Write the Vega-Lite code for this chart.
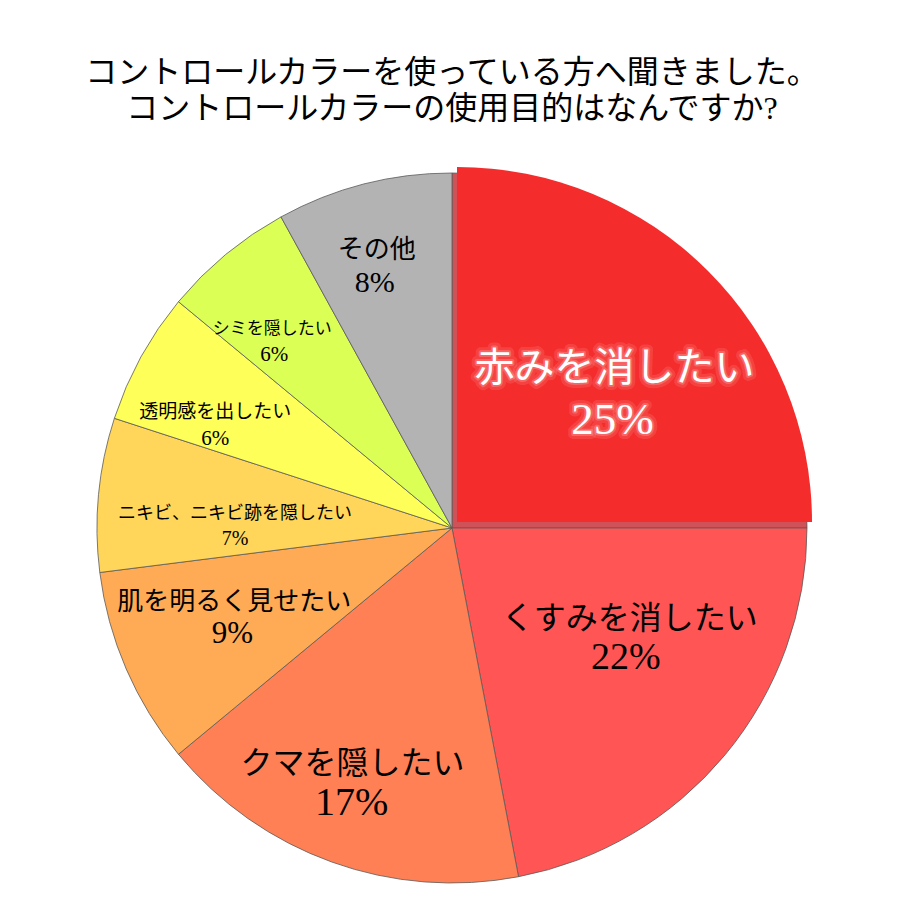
{
  "$schema": "https://vega.github.io/schema/vega-lite/v6.json",
  "width": 896,
  "height": 744,
  "autosize": "none",
  "padding": {"left": 4, "top": 156, "right": 0, "bottom": 0},
  "background": "white",
  "config": {"view": {"stroke": null}},
  "title": {
    "text": ["コントロールカラーを使っている方へ聞きました。", "コントロールカラーの使用目的はなんですか?"],
    "font": "Liberation Serif, Noto Sans CJK JP",
    "fontSize": 32,
    "fontWeight": "normal",
    "lineHeight": 36,
    "color": "black",
    "anchor": "middle",
    "offset": 30
  },
  "data": {
    "values": [
      {"name": "赤みを消したい", "pct": 25},
      {"name": "くすみを消したい", "pct": 22},
      {"name": "クマを隠したい", "pct": 17},
      {"name": "肌を明るく見せたい", "pct": 9},
      {"name": "ニキビ、ニキビ跡を隠したい", "pct": 7},
      {"name": "透明感を出したい", "pct": 6},
      {"name": "シミを隠したい", "pct": 6},
      {"name": "その他", "pct": 8}
    ]
  },
  "transform": [
    {"window": [{"op": "row_number", "as": "i"}]},
    {"calculate": "datum.pct + '%'", "as": "pl"}
  ],
  "encoding": {
    "theta": {"field": "pct", "type": "quantitative", "stack": true},
    "order": {"field": "i", "type": "quantitative"}
  },
  "layer": [
    {
      "mark": {"type": "arc", "outerRadius": 355, "stroke": "#5a5a5a", "strokeWidth": 0.8},
      "encoding": {
        "color": {
          "condition": {"test": "datum.name === '赤みを消したい'", "value": "#CF5258"},
          "field": "name", "type": "nominal", "legend": null,
          "scale": {
            "domain": ["赤みを消したい", "くすみを消したい", "クマを隠したい", "肌を明るく見せたい", "ニキビ、ニキビ跡を隠したい", "透明感を出したい", "シミを隠したい", "その他"],
            "range": ["#F42C2C", "#FF5555", "#FF8055", "#FFAA55", "#FFD55A", "#FFFF5A", "#DBFF55", "#B3B3B3"]
          }
        }
      }
    },
    {
      "mark": {"type": "arc", "outerRadius": 355, "xOffset": 5, "yOffset": -6, "strokeWidth": 0},
      "encoding": {
        "color": {"field": "name", "type": "nominal", "legend": null},
        "opacity": {"condition": {"test": "datum.name === '赤みを消したい'", "value": 1}, "value": 0}
      }
    },
    {
      "mark": {"type": "text", "radius": 200, "dx": 21, "dy": -18, "fontSize": 40, "font": "Noto Sans CJK JP", "fillOpacity": 0, "stroke": "#ffd8d0", "strokeWidth": 10, "strokeOpacity": 0.14, "strokeJoin": "round"},
      "encoding": {"text": {"condition": {"test": "datum.name === '赤みを消したい'", "field": "name"}, "value": ""}}
    },
    {
      "mark": {"type": "text", "radius": 200, "dx": 21, "dy": -18, "fontSize": 40, "font": "Noto Sans CJK JP", "fillOpacity": 0, "stroke": "#ffeeea", "strokeWidth": 4, "strokeOpacity": 0.22, "strokeJoin": "round"},
      "encoding": {"text": {"condition": {"test": "datum.name === '赤みを消したい'", "field": "name"}, "value": ""}}
    },
    {
      "mark": {"type": "text", "radius": 200, "dx": 21, "dy": -18, "fontSize": 40, "font": "Noto Sans CJK JP", "fill": "white"},
      "encoding": {"text": {"condition": {"test": "datum.name === '赤みを消したい'", "field": "name"}, "value": ""}}
    },
    {
      "mark": {"type": "text", "radius": 200, "dx": 19, "dy": 33, "fontSize": 45, "font": "Liberation Serif", "fillOpacity": 0, "stroke": "#ffd8d0", "strokeWidth": 10, "strokeOpacity": 0.14, "strokeJoin": "round"},
      "encoding": {"text": {"condition": {"test": "datum.name === '赤みを消したい'", "field": "pl"}, "value": ""}}
    },
    {
      "mark": {"type": "text", "radius": 200, "dx": 19, "dy": 33, "fontSize": 45, "font": "Liberation Serif", "fillOpacity": 0, "stroke": "#ffeeea", "strokeWidth": 4, "strokeOpacity": 0.22, "strokeJoin": "round"},
      "encoding": {"text": {"condition": {"test": "datum.name === '赤みを消したい'", "field": "pl"}, "value": ""}}
    },
    {
      "mark": {"type": "text", "radius": 200, "dx": 19, "dy": 33, "fontSize": 45, "font": "Liberation Serif", "fill": "white"},
      "encoding": {"text": {"condition": {"test": "datum.name === '赤みを消したい'", "field": "pl"}, "value": ""}}
    },
    {
      "mark": {"type": "text", "radius": 210, "dx": 16, "dy": -43, "fontSize": 32, "font": "Noto Sans CJK JP", "color": "black"},
      "encoding": {"text": {"condition": {"test": "datum.name === 'くすみを消したい'", "field": "name"}, "value": ""}}
    },
    {
      "mark": {"type": "text", "radius": 210, "dx": 12, "dy": -4, "fontSize": 38, "font": "Liberation Serif", "color": "black"},
      "encoding": {"text": {"condition": {"test": "datum.name === 'くすみを消したい'", "field": "pl"}, "value": ""}}
    },
    {
      "mark": {"type": "text", "radius": 270, "dx": -8, "dy": -18, "fontSize": 32, "font": "Noto Sans CJK JP", "color": "black"},
      "encoding": {"text": {"condition": {"test": "datum.name === 'クマを隠したい'", "field": "name"}, "value": ""}}
    },
    {
      "mark": {"type": "text", "radius": 270, "dx": -9, "dy": 21, "fontSize": 40, "font": "Liberation Serif", "color": "black"},
      "encoding": {"text": {"condition": {"test": "datum.name === 'クマを隠したい'", "field": "pl"}, "value": ""}}
    },
    {
      "mark": {"type": "text", "radius": 235, "dx": -2, "dy": -19, "fontSize": 26, "font": "Noto Sans CJK JP", "color": "black"},
      "encoding": {"text": {"condition": {"test": "datum.name === '肌を明るく見せたい'", "field": "name"}, "value": ""}}
    },
    {
      "mark": {"type": "text", "radius": 235, "dx": -4, "dy": 13, "fontSize": 31, "font": "Liberation Serif", "color": "black"},
      "encoding": {"text": {"condition": {"test": "datum.name === '肌を明るく見せたい'", "field": "pl"}, "value": ""}}
    },
    {
      "mark": {"type": "text", "radius": 215, "dx": -3, "dy": 6, "fontSize": 18, "font": "Noto Sans CJK JP", "color": "black"},
      "encoding": {"text": {"condition": {"test": "datum.name === 'ニキビ、ニキビ跡を隠したい'", "field": "name"}, "value": ""}}
    },
    {
      "mark": {"type": "text", "radius": 215, "dx": -3, "dy": 31, "fontSize": 20, "font": "Liberation Serif", "color": "black"},
      "encoding": {"text": {"condition": {"test": "datum.name === 'ニキビ、ニキビ跡を隠したい'", "field": "pl"}, "value": ""}}
    },
    {
      "mark": {"type": "text", "radius": 260, "dx": -9, "dy": 9, "fontSize": 19, "font": "Noto Sans CJK JP", "color": "black"},
      "encoding": {"text": {"condition": {"test": "datum.name === '透明感を出したい'", "field": "name"}, "value": ""}}
    },
    {
      "mark": {"type": "text", "radius": 260, "dx": -9, "dy": 36, "fontSize": 21, "font": "Liberation Serif", "color": "black"},
      "encoding": {"text": {"condition": {"test": "datum.name === '透明感を出したい'", "field": "pl"}, "value": ""}}
    },
    {
      "mark": {"type": "text", "radius": 260, "dx": -14, "dy": 1, "fontSize": 17, "font": "Noto Sans CJK JP", "color": "black"},
      "encoding": {"text": {"condition": {"test": "datum.name === 'シミを隠したい'", "field": "name"}, "value": ""}}
    },
    {
      "mark": {"type": "text", "radius": 260, "dx": -12, "dy": 27, "fontSize": 21, "font": "Liberation Serif", "color": "black"},
      "encoding": {"text": {"condition": {"test": "datum.name === 'シミを隠したい'", "field": "pl"}, "value": ""}}
    },
    {
      "mark": {"type": "text", "radius": 270, "dx": -8, "dy": -16, "fontSize": 26, "font": "Noto Sans CJK JP", "color": "black"},
      "encoding": {"text": {"condition": {"test": "datum.name === 'その他'", "field": "name"}, "value": ""}}
    },
    {
      "mark": {"type": "text", "radius": 270, "dx": -10, "dy": 17, "fontSize": 30, "font": "Liberation Serif", "color": "black"},
      "encoding": {"text": {"condition": {"test": "datum.name === 'その他'", "field": "pl"}, "value": ""}}
    }
  ]
}
